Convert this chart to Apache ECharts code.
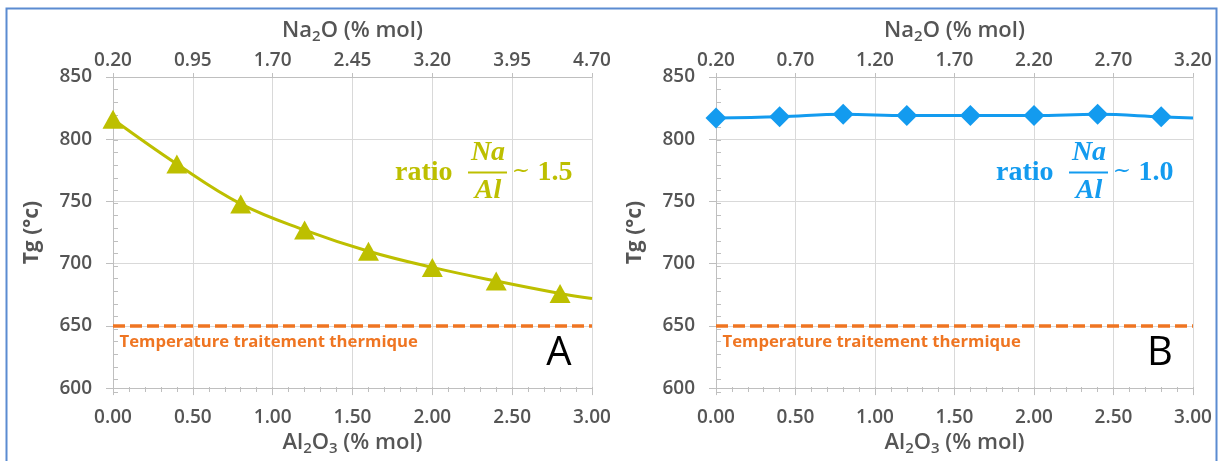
<!DOCTYPE html>
<html><head><meta charset="utf-8">
<script src="https://cdn.jsdelivr.net/npm/echarts@6/dist/echarts.min.js"></script>
<style>html,body{margin:0;padding:0;background:#fff}#c{width:1220px;height:461px}</style>
</head><body><div id="c"></div>
<script>
// ---- data ----
const al2o3 = [0.0, 0.4, 0.8, 1.2, 1.6, 2.0, 2.4, 2.8];
const tgA = [816, 780, 748, 727, 710, 697, 686, 676];
const tgB = [817, 818, 820, 819, 819, 819, 820, 818];
const lineEndX = 3.0;
const tgALineEnd = 672;
const tgBLineEnd = 817;
const thresholdTemp = 650;
const alTicks = ['0.00', '0.50', '1.00', '1.50', '2.00', '2.50', '3.00'];
const naTicksA = ['0.20', '0.95', '1.70', '2.45', '3.20', '3.95', '4.70'];
const naTicksB = ['0.20', '0.70', '1.20', '1.70', '2.20', '2.70', '3.20'];
const tgTicks = ['600', '650', '700', '750', '800', '850'];
const ratioA = '1.5';
const ratioB = '1.0';
const panelLetters = ['A', 'B'];
const thresholdText = 'Temperature traitement thermique';

// ---- styles ----
const OLIVE = '#bdbf00';
const BLUE = '#139bef';
const ORANGE = '#ef7522';
const TXT = '#555555';
const AXIS = '#bfbfbf';
const GRIDC = '#d9d9d9';
const FONT = 'Open Sans';
const LW = 600;

const grids = [
  { left: 113, top: 77, width: 479, height: 315 },
  { left: 716, top: 77, width: 477, height: 315 }
];

function bottomAxis(g) {
  return {
    type: 'value', gridIndex: g, position: 'bottom', min: 0, max: 3, interval: 0.5,
    axisLine: { show: true, onZero: false, lineStyle: { color: AXIS, width: 1 } },
    axisTick: { show: true, inside: false, length: 7, lineStyle: { color: AXIS } },
    axisLabel: { margin: 20, fontSize: 19, color: TXT, fontFamily: FONT, fontWeight: LW,
      formatter: (v, i) => alTicks[i] },
    splitLine: { show: true, lineStyle: { color: GRIDC, width: 1 } },
    name: 'Al{sub|2}O{sub|3} (% mol)', nameLocation: 'middle', nameGap: 37,
    nameTextStyle: { fontSize: 22, color: TXT, fontFamily: FONT, fontWeight: LW,
      rich: { sub: { fontSize: 15, color: TXT, fontFamily: FONT, fontWeight: LW, padding: [11, 0, 0, 0] } } }
  };
}
function topAxis(g, ticks) {
  return {
    type: 'value', gridIndex: g, position: 'top', min: 0, max: 3, interval: 0.5,
    axisLine: { show: true, onZero: false, lineStyle: { color: AXIS, width: 1 } },
    axisTick: { show: true, inside: false, length: 4, lineStyle: { color: AXIS } },
    axisLabel: { margin: 7, fontSize: 19, color: TXT, fontFamily: FONT, fontWeight: LW,
      formatter: (v, i) => ticks[i] },
    splitLine: { show: false },
    name: 'Na{sub|2}O (% mol)', nameLocation: 'middle', nameGap: 33,
    nameTextStyle: { fontSize: 22, color: TXT, fontFamily: FONT, fontWeight: LW,
      rich: { sub: { fontSize: 15, color: TXT, fontFamily: FONT, fontWeight: LW, padding: [11, 0, 0, 0] } } }
  };
}
function minorX(g) {
  return {
    type: 'value', gridIndex: g, position: 'bottom', min: 0, max: 3, interval: 0.1,
    axisLine: { show: false }, axisLabel: { show: false }, splitLine: { show: false },
    axisTick: { show: true, inside: true, length: 5, lineStyle: { color: AXIS } }
  };
}
function mainY(g) {
  return {
    type: 'value', gridIndex: g, min: 600, max: 850, interval: 50,
    axisLine: { show: true, onZero: false, lineStyle: { color: AXIS, width: 1 } },
    axisTick: { show: true, inside: false, length: 7, lineStyle: { color: AXIS } },
    axisLabel: { margin: 21, fontSize: 19, color: TXT, fontFamily: FONT, fontWeight: LW,
      formatter: (v, i) => tgTicks[i] },
    splitLine: { show: true, lineStyle: { color: GRIDC, width: 1 } },
    name: 'Tg (°c)', nameLocation: 'middle', nameGap: 70, nameRotate: 90,
    nameTextStyle: { fontSize: 21, fontWeight: 'bold', color: TXT, fontFamily: FONT }
  };
}
function minorY(g) {
  return {
    type: 'value', gridIndex: g, min: 600, max: 850, interval: 10,
    axisLine: { show: false }, axisLabel: { show: false }, splitLine: { show: false },
    axisTick: { show: true, inside: true, length: 5, lineStyle: { color: AXIS } }
  };
}

function seriesData(ys, endY) {
  const d = al2o3.map((x, i) => [x, ys[i]]);
  d.push({ value: [lineEndX, endY], symbol: 'none' });
  return d;
}
function threshold() {
  return {
    symbol: 'none', silent: true, animation: false,
    data: [{ yAxis: thresholdTemp }],
    lineStyle: { color: ORANGE, type: [12, 5], width: 3.5 },
    label: { show: false }
  };
}

const option = {
  animation: false,
  backgroundColor: '#ffffff',
  grid: [grids[0], grids[1], Object.assign({}, grids[0]), Object.assign({}, grids[1])],
  xAxis: [bottomAxis(0), topAxis(0, naTicksA), bottomAxis(1), topAxis(1, naTicksB), minorX(2), minorX(3)],
  yAxis: [mainY(0), mainY(1), minorY(2), minorY(3)],
  series: [
    { type: 'line', xAxisIndex: 0, yAxisIndex: 0, smooth: 0.4, z: 4,
      symbol: 'triangle', symbolSize: [21, 19],
      data: seriesData(tgA, tgALineEnd),
      lineStyle: { color: OLIVE, width: 3 }, itemStyle: { color: OLIVE },
      markLine: threshold() },
    { type: 'line', xAxisIndex: 2, yAxisIndex: 1, smooth: 0.4, z: 4,
      symbol: 'diamond', symbolSize: 21,
      data: seriesData(tgB, tgBLineEnd),
      lineStyle: { color: BLUE, width: 3 }, itemStyle: { color: BLUE },
      markLine: threshold() }
  ]
};

const chart = echarts.init(document.getElementById('c'), null, { renderer: 'canvas' });
chart.setOption(option);

// annotations anchored to each panel's axes
const ratioFont = 'bold 28px "Liberation Serif", "DejaVu Serif", serif';
const ratioItalic = 'italic bold 28px "Liberation Serif", "DejaVu Serif", serif';
const graphics = [{
  type: 'rect', silent: true, z: 0,
  shape: { x: 6.5, y: 8.5, width: 1210, height: 480 },
  style: { fill: 'none', stroke: '#5b8bd1', lineWidth: 2 }
}];
[[0, OLIVE, ratioA], [1, BLUE, ratioB]].forEach(([g, col, ratio]) => {
  const [x3, y800] = chart.convertToPixel({ gridIndex: g }, [3, 800]);
  const [x0, y650] = chart.convertToPixel({ gridIndex: g }, [0, thresholdTemp]);
  const [, y600] = chart.convertToPixel({ gridIndex: g }, [3, 600]);
  graphics.push(
    { type: 'text', silent: true, z: 10, x: x3 - 197, y: y800 + 33.4,
      style: { text: 'ratio', font: ratioFont, fill: col, align: 'left', verticalAlign: 'middle' } },
    { type: 'text', silent: true, z: 10, x: x3 - 104, y: y800 + 13.4,
      style: { text: 'Na', font: ratioItalic, fill: col, align: 'center', verticalAlign: 'middle' } },
    { type: 'line', silent: true, z: 10,
      shape: { x1: x3 - 124, y1: y800 + 33.4, x2: x3 - 85, y2: y800 + 33.4 },
      style: { stroke: col, lineWidth: 2 } },
    { type: 'text', silent: true, z: 10, x: x3 - 104, y: y800 + 51.7,
      style: { text: 'Al', font: ratioItalic, fill: col, align: 'center', verticalAlign: 'middle' } },
    { type: 'text', silent: true, z: 10, x: x3 - 71, y: y800 + 32,
      style: { text: '~', font: '22px "DejaVu Serif", serif', fill: col, align: 'center', verticalAlign: 'middle' } },
    { type: 'text', silent: true, z: 10, x: x3 - 37, y: y800 + 33.4,
      style: { text: ratio, font: ratioFont, fill: col, align: 'center', verticalAlign: 'middle' } },
    { type: 'text', silent: true, z: 10, x: x0 + 6.5, y: y650 + 16.6,
      style: { text: thresholdText, font: 'bold 16.7px "Open Sans"', fill: ORANGE, align: 'left', verticalAlign: 'middle' } },
    { type: 'text', silent: true, z: 10, x: x3 - 33, y: y600 - 34.2,
      style: { text: panelLetters[g], font: '40px "Open Sans"', fill: '#000000', align: 'center', verticalAlign: 'middle' } }
  );
});
chart.setOption({ graphic: graphics });
</script>
</body></html>
